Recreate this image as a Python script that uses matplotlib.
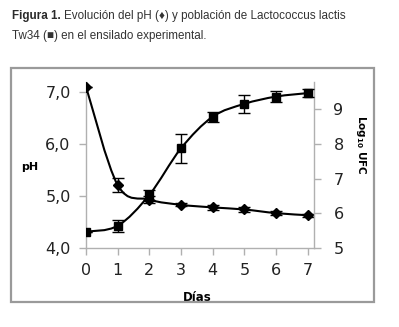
import numpy as np
import matplotlib
matplotlib.use("Agg")
import matplotlib.pyplot as plt
from matplotlib.path import Path
from matplotlib.patches import PathPatch, Rectangle

# Data
dias = [0, 1, 2, 3, 4, 5, 6, 7]
ph = [7.10, 5.21, 4.93, 4.83, 4.78, 4.74, 4.67, 4.63]
ph_err = [0.0, 0.14, 0.07, 0.03, 0.05, 0.04, 0.04, 0.03]
log_ufc = [5.47, 5.64, 6.53, 7.87, 8.78, 9.15, 9.36, 9.46]
log_err = [0.0, 0.18, 0.15, 0.42, 0.15, 0.25, 0.16, 0.12]

ph_ticks = [4.0, 5.0, 6.0, 7.0]
ph_labels = ["4,0", "5,0", "6,0", "7,0"]
log_ticks = [5, 6, 7, 8, 9]


def smooth_path(x, y):
    # Excel-style smoothed line: Catmull-Rom segments as cubic Bezier curves
    x = np.asarray(x, float)
    y = np.asarray(y, float)
    verts = [(x[0], y[0])]
    codes = [Path.MOVETO]
    n = len(x)
    for i in range(n - 1):
        p0 = i - 1 if i > 0 else i
        p3 = i + 2 if i + 2 < n else i + 1
        c1 = (x[i] + (x[i + 1] - x[p0]) / 6, y[i] + (y[i + 1] - y[p0]) / 6)
        c2 = (x[i + 1] - (x[p3] - x[i]) / 6, y[i + 1] - (y[p3] - y[i]) / 6)
        verts += [c1, c2, (x[i + 1], y[i + 1])]
        codes += [Path.CURVE4] * 3
    return Path(verts, codes)


fig = plt.figure(figsize=(3.99, 3.27), dpi=100)
fig.patch.set_facecolor("white")

# gray frame around chart
fig.patches.append(Rectangle((11 / 399, 1 - 302 / 327), 363 / 399, 234 / 327,
                             transform=fig.transFigure, fill=False,
                             edgecolor="#9a9a9a", linewidth=1.6))

cap_font = ["Liberation Sans", "DejaVu Sans"]
cap_size = 8.4
t1 = fig.text(12 / 399, 1 - 16 / 327, "Figura 1.", family=cap_font,
              fontweight="bold", fontsize=cap_size, color="#2a2a2a", va="center")
fig.canvas.draw()
bb = t1.get_window_extent()
fig.text(bb.x1 / 399 + 3 / 399, 1 - 16 / 327,
         "Evolución del pH (\u2666) y población de Lactococcus lactis",
         family=cap_font, fontsize=cap_size, color="#333333", va="center")
fig.text(12 / 399, 1 - 36 / 327, "Tw34 (\u25a0) en el ensilado experimental.",
         family=cap_font, fontsize=cap_size, color="#333333", va="center")

ax = fig.add_axes([86 / 399, 1 - 248 / 327, 228 / 399, 166 / 327])
ax2 = ax.twinx()

ax.set_xlim(0, 7.2)
ax.set_ylim(4.0, 7.19)
ax2.set_ylim(5.0, 9.78)

axis_col = "#b0b0b0"
for a in (ax, ax2):
    a.set_facecolor("none")
    a.spines["top"].set_visible(False)
    for s in ("left", "right", "bottom"):
        a.spines[s].set_color(axis_col)
        a.spines[s].set_linewidth(1.0)
    a.tick_params(colors=axis_col, length=5, width=1.0, labelcolor="#222222",
                  labelsize=11.5, pad=6)
ax.spines["right"].set_visible(False)
ax2.spines["left"].set_visible(False)
ax2.spines["bottom"].set_visible(False)
ax2.tick_params(axis="y", pad=9)

ax.set_xticks(dias)
ax.set_yticks(ph_ticks)
ax.set_yticklabels(ph_labels)
ax2.set_yticks(log_ticks)

# pH curve
ax.add_patch(PathPatch(smooth_path(dias, ph), fill=False, edgecolor="black",
                       linewidth=1.5, zorder=3))
ax.errorbar(dias, ph, yerr=ph_err, fmt="D", color="black", markersize=5.5,
            ecolor="black", elinewidth=1.0, capsize=4, capthick=1.0, zorder=4)

# log UFC curve
ax2.add_patch(PathPatch(smooth_path(dias, log_ufc), fill=False,
                        edgecolor="black", linewidth=1.5, zorder=3))
ax2.errorbar(dias, log_ufc, yerr=log_err, fmt="s", color="black",
             markersize=6, ecolor="black", elinewidth=1.0, capsize=4,
             capthick=1.0, zorder=4)

ax.set_xlabel("Días", fontsize=8.5, fontweight="bold")
ax.xaxis.set_label_coords(0.487, -0.259)
ax.set_ylabel("pH", fontsize=8, fontweight="bold", rotation=0, va="center",
              ha="center")
ax.yaxis.set_label_coords(-0.245, 0.488)
ax2.set_ylabel("Log$_{\\mathbf{10}}$ UFC", fontsize=7.5, fontweight="bold",
               rotation=-90, va="center", ha="center")
ax2.yaxis.set_label_coords(1.206, 0.62)

fig.savefig("out.png", dpi=100, facecolor="white")
